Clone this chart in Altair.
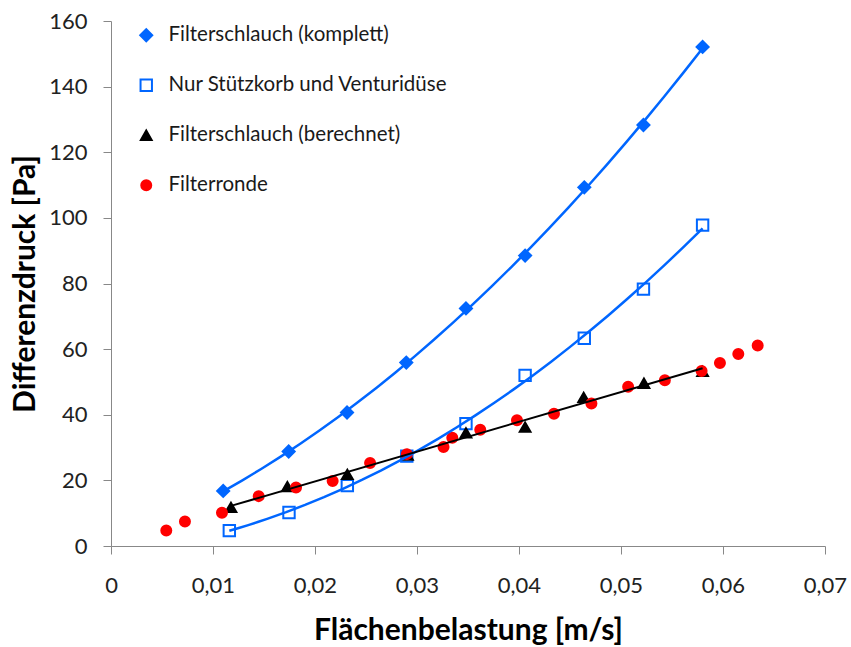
import altair as alt
import pandas as pd

# --- data ---
x_komplett = [0.0110, 0.01742, 0.02314, 0.02895, 0.0348, 0.0406, 0.0464, 0.0522, 0.0580]
y_komplett = [16.8, 28.8, 40.7, 55.9, 72.4, 88.5, 109.3, 128.3, 152.1]

x_stuetz = [0.0116, 0.01745, 0.02317, 0.0290, 0.0348, 0.0406, 0.0464, 0.0522, 0.0580]
y_stuetz = [4.7, 10.2, 18.4, 27.4, 37.3, 52.0, 63.3, 78.3, 97.8]

x_berechnet = [0.01176, 0.01729, 0.02317, 0.02906, 0.0348, 0.0406, 0.04634, 0.05225, 0.0580]
y_berechnet = [11.8, 18.1, 21.8, 27.7, 34.5, 36.2, 45.3, 49.6, 53.2]

x_ronde = [0.00542, 0.00725, 0.01088, 0.01448, 0.01814, 0.02173, 0.0254, 0.0290, 0.0326,
           0.03346, 0.0362, 0.0398, 0.04343, 0.0471, 0.0507, 0.0543, 0.0579, 0.0597,
           0.0615, 0.0634]
y_ronde = [4.7, 7.5, 10.1, 15.2, 17.8, 19.8, 25.3, 28.0, 30.2,
           33.0, 35.4, 38.3, 40.3, 43.4, 48.5, 50.5, 53.3, 55.8,
           58.5, 61.1]

series_names = ["Filterschlauch (komplett)", "Nur Stützkorb und Venturidüse",
                "Filterschlauch (berechnet)", "Filterronde"]
x_ticks = [0, 0.01, 0.02, 0.03, 0.04, 0.05, 0.06, 0.07]
y_ticks = [0, 20, 40, 60, 80, 100, 120, 140, 160]

BLUE = "#0066FF"
shapes = ["diamond", "square", "triangle-up", "circle"]
fills = [BLUE, "white", "black", "#FF0000"]
strokes = [BLUE, BLUE, "black", "#FF0000"]
sizes = [145, 100, 165, 115]

rows = []
for name, xs, ys in zip(series_names,
                        [x_komplett, x_stuetz, x_berechnet, x_ronde],
                        [y_komplett, y_stuetz, y_berechnet, y_ronde]):
    for xv, yv in zip(xs, ys):
        rows.append({"Serie": name, "x": xv, "y": yv})
df = pd.DataFrame(rows)

FONT = "Lato"

xscale = alt.Scale(domain=[0, 0.07], nice=False, zero=False)
yscale = alt.Scale(domain=[0, 160], nice=False)

xaxis = alt.Axis(
    title="Flächenbelastung [m/s]", values=x_ticks, grid=False,
    labelExpr="datum.value == 0 ? '0' : replace(format(datum.value, '.2f'), '.', ',')",
    domainColor="#888888", tickColor="#888888", tickSize=8, labelPadding=21,
    labelFontSize=22, labelColor="#222222", labelFont=FONT,
    titleFontSize=30, titleFont=FONT, titleFontWeight="bold", titleColor="#000000",
    titlePadding=19, labelFlush=False,
)
yaxis = alt.Axis(
    title="Differenzdruck [Pa]", values=y_ticks, grid=False,
    domainColor="#888888", tickColor="#888888", tickSize=8, labelPadding=16,
    labelFontSize=22, labelColor="#222222", labelFont=FONT,
    titleFontSize=30, titleFont=FONT, titleFontWeight="bold", titleColor="#000000",
    titlePadding=8,
)

base = alt.Chart(df)

legend = alt.Legend(
    title=None, orient="none", legendX=25, legendY=4,
    labelFontSize=20.5, labelFont=FONT, labelColor="#1a1a1a", labelLimit=500,
    symbolStrokeWidth=2, rowPadding=29, labelOffset=12,
    padding=0,
)

points = base.mark_point(opacity=1, strokeWidth=2).encode(
    x=alt.X("x:Q", scale=xscale, axis=xaxis),
    y=alt.Y("y:Q", scale=yscale, axis=yaxis),
    shape=alt.Shape("Serie:N", scale=alt.Scale(domain=series_names, range=shapes), legend=legend),
    fill=alt.Fill("Serie:N", scale=alt.Scale(domain=series_names, range=fills), legend=legend),
    stroke=alt.Stroke("Serie:N", scale=alt.Scale(domain=series_names, range=strokes), legend=legend),
    size=alt.Size("Serie:N", scale=alt.Scale(domain=series_names, range=sizes), legend=legend),
)

trend_k = base.transform_filter(alt.datum.Serie == series_names[0]).transform_regression(
    "x", "y", method="poly", order=2
).mark_line(color=BLUE, strokeWidth=2.5).encode(x="x:Q", y="y:Q")

trend_s = base.transform_filter(alt.datum.Serie == series_names[1]).transform_regression(
    "x", "y", method="poly", order=2
).mark_line(color=BLUE, strokeWidth=2.5).encode(x="x:Q", y="y:Q")

trend_b = base.transform_filter(alt.datum.Serie == series_names[2]).transform_regression(
    "x", "y", method="linear"
).mark_line(color="black", strokeWidth=2).encode(x="x:Q", y="y:Q")

chart = alt.layer(points, trend_k, trend_s, trend_b).properties(
    width=714, height=525,
    autosize=alt.AutoSizeParams(type="none"),
    padding={"left": 111, "top": 21, "right": 26, "bottom": 101},
    background="white",
).configure_view(stroke=None)

chart.save("out.html", embed_options={"renderer": "svg", "actions": False})
